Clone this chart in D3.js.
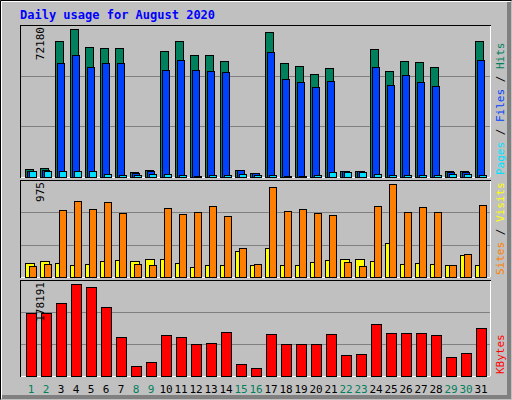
<!DOCTYPE html>
<html><head><meta charset="utf-8">
<script src="https://cdn.jsdelivr.net/npm/d3@7"></script>
<style>body{margin:0;background:#fff}text{font-family:"DejaVu Sans Mono",monospace}</style>
</head><body>
<script>
var days = d3.range(1, 32);
var weekend = [1, 2, 8, 9, 15, 16, 22, 23, 29, 30];

var hits = [3900,4400,66300,72200,63400,62900,62900,2400,3400,61500,66300,59500,59500,56600,3400,1900,70700,55600,54100,50200,53200,2900,2900,62400,51700,56600,56100,53700,2900,2900,66300];
var files = [2900,3400,55600,59500,53700,55600,55600,1900,2900,52200,57100,52200,51700,51200,3400,1900,60900,47800,46300,43900,46800,2900,2900,53700,44900,49700,46300,44400,2400,2400,57100];
var pages = [2900,2900,2900,2900,2900,1500,1000,1000,1500,1500,1000,500,1000,1000,1500,1000,1000,500,500,1000,2400,2400,2400,1500,1000,1000,1000,1000,1500,1500,1000];
var sites = [147,168,147,126,136,168,178,168,189,189,147,105,126,126,273,126,304,126,126,157,178,189,189,168,356,136,147,136,126,231,126];
var visits = [115,136,702,797,713,786,671,136,126,723,660,681,744,639,304,136,943,692,713,671,650,157,115,744,975,681,734,681,126,241,755];
var kbytes = [122000,122000,141400,178200,172000,133300,75500,19400,27100,79400,75500,62000,63900,85200,23200,15500,81300,62000,62000,62000,81300,40700,42600,100700,83200,83200,83200,79400,36800,44600,92900];

var W = 512, H = 400;
var svg = d3.select('body').append('svg').attr('width', W).attr('height', H);
svg.append('rect').attr('width', W).attr('height', H).attr('fill', '#c0c0c0');
// 3d frame
svg.append('path').attr('d', 'M0.5,399.5V0.5H511.5').attr('stroke', '#000').attr('fill', 'none');
svg.append('path').attr('d', 'M1.5,398.5V1.5H510.5').attr('stroke', '#fff').attr('fill', 'none');
svg.append('path').attr('d', 'M2,397H509V2').attr('stroke', '#808080').attr('stroke-width', 4).attr('fill', 'none');

svg.append('text').attr('x', 20).attr('y', 19).attr('fill', '#0000ff')
	.attr('font-size', 12).attr('font-weight', 'bold').text('Daily usage for August 2020');

var x = d3.scaleBand().domain(days).range([20, 485]);

function panel(top, bottom, maxTop, max, label, series, rlabels) {
	svg.append('rect').attr('x', 20.5).attr('y', top + 0.5).attr('width', 470).attr('height', bottom - top)
		.attr('fill', '#c0c0c0').attr('stroke', '#000');
	svg.append('path').attr('d', 'M490.5,' + (top + 1) + 'V' + (bottom + 0.5) + 'H21')
		.attr('stroke', '#fff').attr('fill', 'none');
	var y = d3.scaleLinear().domain([0, max]).range([bottom, maxTop]);
	var step = (bottom - top) / 3;
	[1, 2].forEach(function (k) {
		svg.append('line').attr('x1', 21).attr('x2', 490)
			.attr('y1', Math.round(top + step * k) + 0.5).attr('y2', Math.round(top + step * k) + 0.5)
			.attr('stroke', '#808080');
	});
	series.forEach(function (s) {
		svg.append('g').selectAll('rect').data(s.data).enter().append('rect')
			.attr('x', function (d, i) { return x(days[i]) + s.off + 0.5; })
			.attr('y', function (d) { return Math.round(y(d)) + 0.5; })
			.attr('width', s.w)
			.attr('height', function (d) { return Math.max(0, bottom - Math.round(y(d))); })
			.attr('fill', s.color).attr('stroke', '#000');
	});
	svg.append('text').attr('transform', 'translate(44,' + (top + 2) + ')rotate(-90)')
		.attr('text-anchor', 'end').attr('font-size', 11).attr('fill', '#000').text(label);
	var t = svg.append('text').attr('transform', 'translate(504,' + (bottom - 2) + ')rotate(-90)')
		.attr('font-size', 11);
	rlabels.forEach(function (r, i) {
		if (i > 0) t.append('tspan').attr('fill', '#000').text(' / ');
		t.append('tspan').attr('fill', r[1]).text(r[0]);
	});
}

panel(25, 177, 29, 72180, '72180', [
	{data: hits, color: '#00805c', off: 5, w: 8},
	{data: files, color: '#0040ff', off: 7, w: 7},
	{data: pages, color: '#00e0ff', off: 9, w: 7}
], [['Pages', '#00e0ff'], ['Files', '#0040ff'], ['Hits', '#00805c']]);

panel(180, 277, 184, 975, '975', [
	{data: sites, color: '#ffff00', off: 5, w: 9},
	{data: visits, color: '#ff8000', off: 9, w: 7}
], [['Sites', '#ff8000'], ['Visits', '#ffff00']]);

panel(280, 376, 284, 178191, '178191', [
	{data: kbytes, color: '#ff0000', off: 6, w: 10}
], [['KBytes', '#ff0000']]);

svg.append('g').selectAll('text').data(days).enter().append('text')
	.attr('x', function (d) { return x(d) + 11; })
	.attr('y', 393).attr('text-anchor', 'middle').attr('font-size', 11)
	.attr('fill', function (d) { return weekend.indexOf(d) >= 0 ? '#00805c' : '#000'; })
	.text(function (d) { return d; });
</script>
</body></html>
